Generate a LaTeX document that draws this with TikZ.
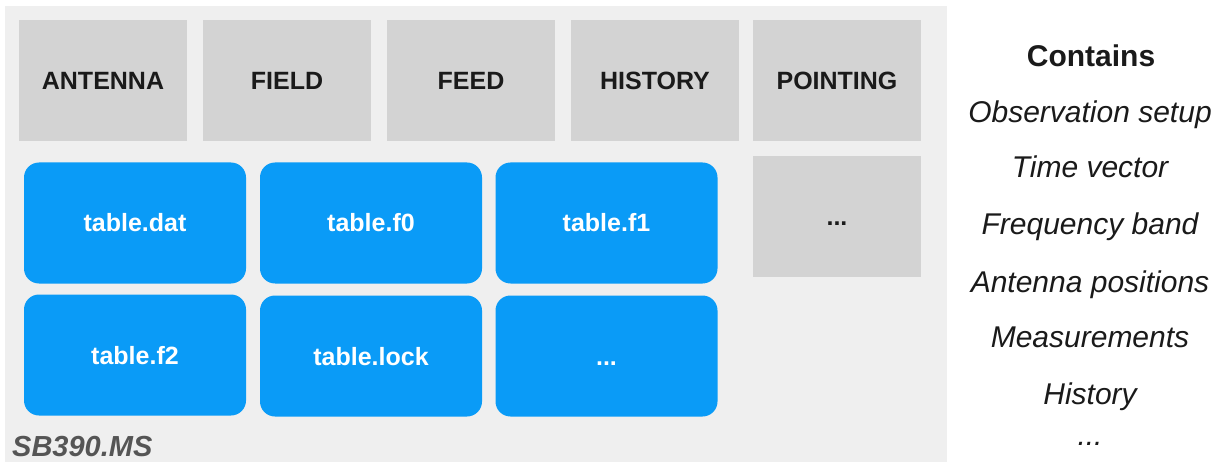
\documentclass[tikz,border=0pt]{standalone}
\usepackage{fontspec}
\setmainfont{Liberation Sans}
\begin{document}
\begin{tikzpicture}[x=1pt,y=-1pt,
  hdr/.style={fill=boxgray,draw=none,minimum width=168pt,minimum height=121pt,
    inner sep=0pt,text height=18pt,text depth=0pt,
    font=\fontsize{25}{29}\selectfont\bfseries,text=txtdark},
  tbl/.style={fill=tblblue,draw=none,rounded corners=15pt,minimum width=222pt,
    minimum height=121pt,inner sep=0pt,text height=18pt,text depth=0pt,
    font=\fontsize{25}{29}\selectfont\bfseries,text=white},
  info/.style={font=\fontsize{30}{35}\selectfont\itshape,text=txtdark,inner sep=0pt,anchor=base}
]
\definecolor{panelgray}{HTML}{EFEFEF}
\definecolor{boxgray}{HTML}{D3D3D3}
\definecolor{tblblue}{HTML}{0A9BF7}
\definecolor{txtdark}{HTML}{1A1A1A}
\definecolor{msgray}{HTML}{555555}

\useasboundingbox[fill=white] (0,0) rectangle (1217,462);

% measurement set container
\fill[panelgray] (5,6) rectangle (947,462);

% subtables
\node[hdr] (antenna)  at (103,81) {ANTENNA};
\node[hdr] (field)    at (287,81) {FIELD};
\node[hdr] (feed)     at (471,81) {FEED};
\node[hdr] (history)  at (655,81) {HISTORY};
\node[hdr] (pointing) at (837,81) {POINTING};
\node[hdr] (more)     at (837,216.5) {...};

% table files
\node[tbl] (tdat)  at (135,223) {table.dat};
\node[tbl] (tf0)   at (371,223) {table.f0};
\node[tbl] (tf1)   at (606.5,223) {table.f1};
\node[tbl] (tf2)   at (135,355) {table.f2};
\node[tbl] (tlock) at (371,356) {table.lock};
\node[tbl] (tmore) at (606.5,356) {...};

% container name
\node[font=\fontsize{29}{34}\selectfont\bfseries\itshape,text=msgray,anchor=base west,inner sep=0pt]
  (msname) at (12,456) {SB390.MS};

% contents list
\node[font=\fontsize{30}{35}\selectfont\bfseries,text=txtdark,inner sep=0pt,anchor=base]
  (contains) at (1091,67) {Contains};
\node[info] (c1) at (1090,123) {Observation setup};
\node[info] (c2) at (1090,178) {Time vector};
\node[info] (c3) at (1090,235) {Frequency band};
\node[info] (c4) at (1090,292) {Antenna positions};
\node[info] (c5) at (1090,347) {Measurements};
\node[info] (c6) at (1090,404) {History};
\node[info] (c7) at (1090,445) {...};
\end{tikzpicture}
\end{document}
